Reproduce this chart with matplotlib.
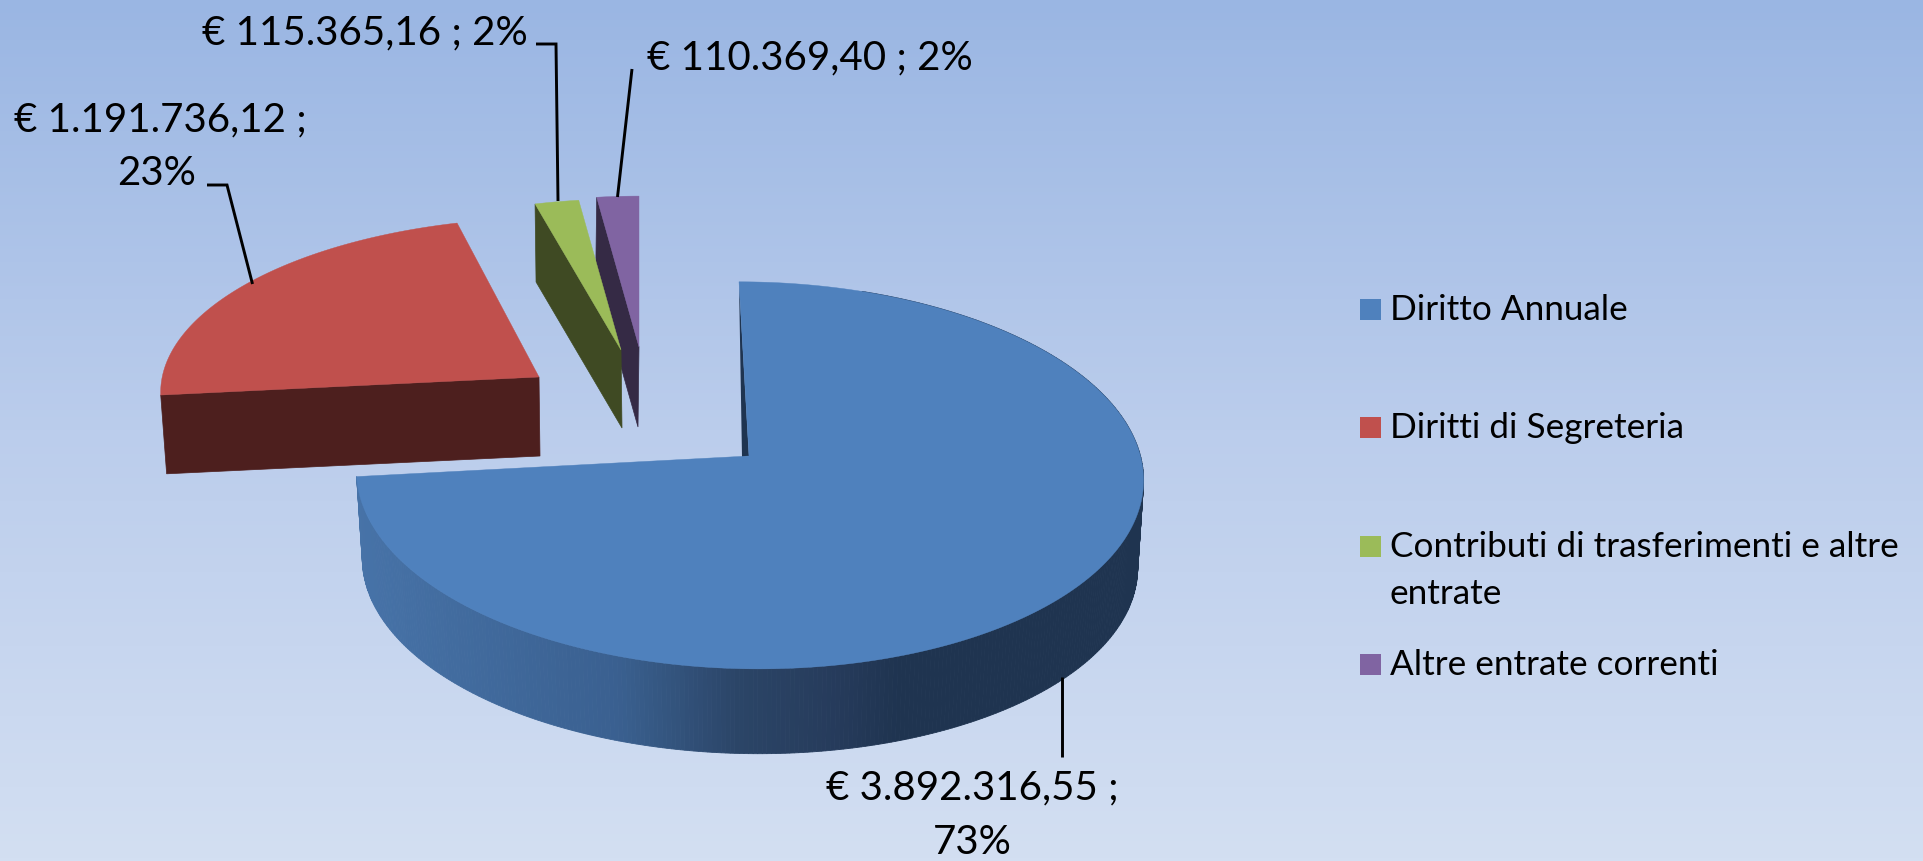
import numpy as np
import matplotlib
matplotlib.use('Agg')
import matplotlib.pyplot as plt
from matplotlib.colors import LinearSegmentedColormap, to_rgb
from matplotlib.patches import Rectangle

plt.rcParams['font.family'] = ['Lato', 'DejaVu Sans']

# Data
categories = ['Diritto Annuale', 'Diritti di Segreteria',
              'Contributi di trasferimenti e altre\nentrate', 'Altre entrate correnti']
values = [3892316.55, 1191736.12, 115365.16, 110369.40]
value_labels = ['€ 3.892.316,55 ;\n73%', '€ 1.191.736,12 ;\n23%',
                '€ 115.365,16 ; 2%', '€ 110.369,40 ; 2%']

top_colors = ['#4F81BD', '#C0504D', '#9BBB59', '#8064A2']
wall_colors = ['#1F3450', '#4D1F1E', '#3F4A23', '#352A45']

# one projection per slice, each is exploded to its own spot
# cx, cy, R, Rt, k, shear a, shear b, depth, bottom scale, bottom dx
geom = [
    (749, 456, 391.5, 191.6, 0.100, 0.0, -10.0, 88, 0.985, 0),
    (539, 377, 378, 168.7, 0.059, 1.2, 11.7, 79, 0.987, 1),
    (621, 350, 357, 166.0, 0.100, 0.0, 0.0, 78, 1.0, 1),
    (639, 347, 357, 166.0, 0.100, 0.0, 0.0, 80, 1.0, -1),
]

# where the angles start, clockwise from the top
shares = np.array(values) / sum(values)
edges = np.concatenate([[0], np.cumsum(shares)]) * 2 * np.pi


def project(theta, g, lower=False):
    cx, cy, R, Rt, k, a, b, depth, scale, dx = g
    u, v = np.sin(theta), np.cos(theta)
    x = R * u / (1 + k * v) + a + b * v
    y = -Rt * v / (1 + k * v)
    if lower:
        return cx + dx + scale * x, cy + depth + scale * y
    return cx + x, cy + y


fig = plt.figure(figsize=(19.24, 8.61), dpi=100)
ax = fig.add_axes([0, 0, 1, 1])

bg = LinearSegmentedColormap.from_list('bg', ['#9AB6E3', '#BBCDEC', '#D3DFF2'])
ax.imshow(np.linspace(0, 1, 256).reshape(-1, 1), cmap=bg, aspect='auto',
          extent=[0, 1924, 861, 0], zorder=0)

# blue rim gets a horizontal shade, dark to the right
shade_x = [356, 620, 740, 840, 900]
shade_c = np.array([to_rgb(c) for c in ['#4773A8', '#3A6090', '#2B4567', '#263B5B', '#1F3450']])

for i in [3, 2, 1, 0]:
    g = geom[i]
    start, end = edges[i], edges[i + 1]
    th = np.linspace(start, end, 300)
    if i == 0:
        rim = np.radians(np.linspace(20, np.degrees(end), 400))
        tx, ty = project(rim, g)
        bx, by = project(rim, g, lower=True)
        for j in range(len(rim) - 1):
            mid = (tx[j] + bx[j]) / 2
            c = [np.interp(mid, shade_x, shade_c[:, n]) for n in range(3)]
            ax.fill([tx[j], tx[j + 1], bx[j + 1], bx[j]], [ty[j], ty[j + 1], by[j + 1], by[j]],
                    color=c, lw=0.6, zorder=2)
        # thin bit of the inner wall along the top edge
        tsx, tsy = project(start, g)
        ax.fill([tsx, g[0], g[0] - 7], [tsy, g[1], g[1] + 1], color=wall_colors[i], lw=0, zorder=2)
    else:
        # wall under the edge facing us
        tsx, tsy = project(start, g)
        bsx, bsy = project(start, g, lower=True)
        ax.fill([tsx, g[0], g[0] + g[9], bsx], [tsy, g[1], g[1] + g[7], bsy],
                color=wall_colors[i], lw=0.5, zorder=2 + (3 - i) * 0.1)

    tx, ty = project(th, g)
    ax.fill(np.r_[g[0], tx], np.r_[g[1], ty], color=top_colors[i], lw=0.3, zorder=2.5 + (3 - i) * 0.1)

# leader lines
leaders = [
    ([1062, 1062], [677, 757]),
    ([207, 227, 252.5], [185, 185, 284]),
    ([536, 556, 558], [44, 44, 201]),
    ([632, 617.5], [69, 197]),
]
for lx, ly in leaders:
    ax.plot(lx, ly, color='black', lw=2.1, solid_joinstyle='miter', solid_capstyle='butt', zorder=4)

# value labels, line by line
label_pos = [[(972, 799), (972, 854)], [(160, 131), (157, 185)], [(365, 44)], [(810, 69)]]
for text, pos in zip(value_labels, label_pos):
    for line, (px, py) in zip(text.split('\n'), pos):
        ax.text(px, py, line, fontsize=29, ha='center', va='baseline', color='black', zorder=5)

# legend
legend_y = [320, 438, 557, 675]
for name, col, ly in zip(categories, top_colors, legend_y):
    ax.add_patch(Rectangle((1360, ly - 21), 21, 21, color=col, lw=0, zorder=5))
    lines = name.split('\n')
    ax.text(1390, ly, lines[0], fontsize=25.3, va='baseline', color='black', zorder=5)
    if len(lines) > 1:
        ax.text(1390, ly + 47, lines[1], fontsize=25.3, va='baseline', color='black', zorder=5)

ax.set_xlim(0, 1924)
ax.set_ylim(861, 0)
ax.axis('off')
fig.savefig('out.png', dpi=100)
